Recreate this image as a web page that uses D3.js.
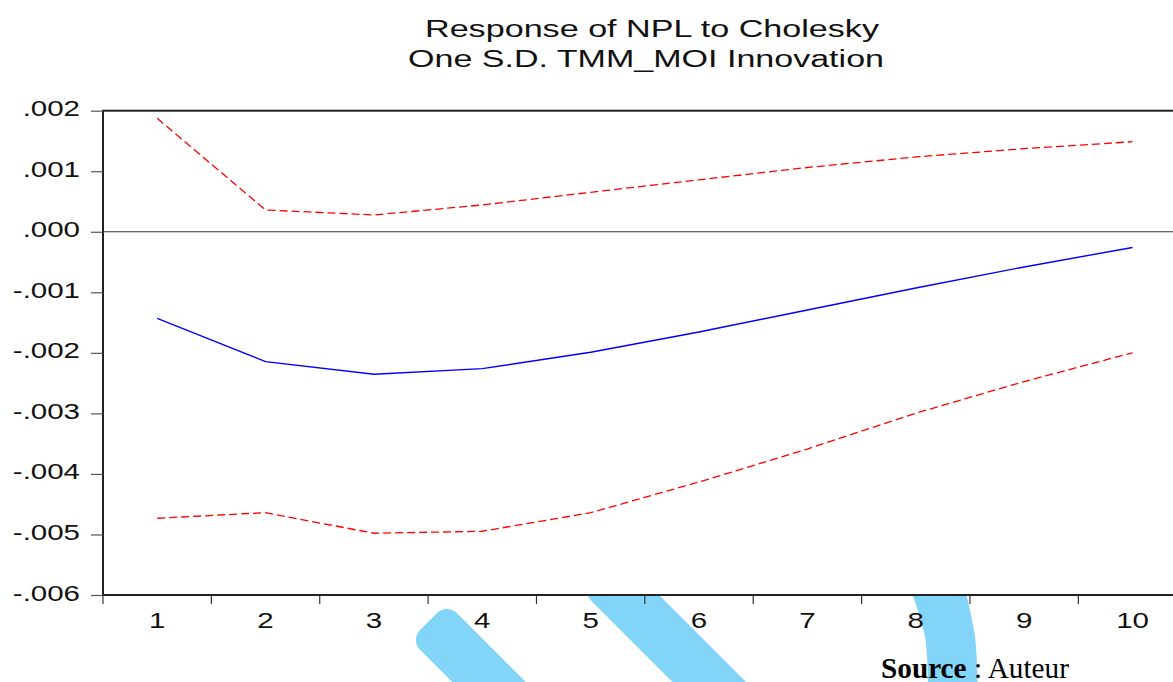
<!DOCTYPE html>
<html>
<head>
<meta charset="utf-8">
<script src="https://cdn.jsdelivr.net/npm/d3@7"></script>
<style>
  html, body { margin: 0; padding: 0; background: #fff; }
  svg { display: block; }
</style>
</head>
<body>
<svg id="chart" width="1173" height="682"></svg>
<script>
// Impulse response of NPL to a one S.D. TMM_MOI shock, with ±2 S.E. bands
const periods = [1, 2, 3, 4, 5, 6, 7, 8, 9, 10];
const response = [-0.001429, -0.002146, -0.002354, -0.002261, -0.001990, -0.001655, -0.001292, -0.000928, -0.000581, -0.000259];
const upperBand = [0.001875, 0.000360, 0.000278, 0.000443, 0.000652, 0.000859, 0.001062, 0.001236, 0.001373, 0.001488];
const lowerBand = [-0.004732, -0.004640, -0.004980, -0.004947, -0.004640, -0.004133, -0.003589, -0.002996, -0.002474, -0.001999];
const yTickValues = [0.002, 0.001, 0.000, -0.001, -0.002, -0.003, -0.004, -0.005, -0.006];
const yTickLabels = [".002", ".001", ".000", "-.001", "-.002", "-.003", "-.004", "-.005", "-.006"];
const titleLines = ["Response of NPL to Cholesky", "One S.D. TMM_MOI Innovation"];

const svg = d3.select("#chart");
const W = 1173, H = 682;
const plot = { left: 103, top: 110.7, right: 1186.7, bottom: 595 };
const FONT = "'Liberation Sans', Arial, Helvetica, sans-serif";
const HSTRETCH = 1.34;

svg.append("rect").attr("width", W).attr("height", H).attr("fill", "#fff");

const x = d3.scaleBand().domain(periods).range([plot.left, plot.right]).paddingInner(0).paddingOuter(0);
const y = d3.scaleLinear().domain([-0.006, 0.002]).range([plot.bottom, plot.top]);
const cx = p => x(p) + x.bandwidth() / 2;

// Light-blue highlighter strokes below the plot frame
const marker = svg.append("g").attr("clip-path", "url(#belowPlot)");
svg.append("defs").append("clipPath").attr("id", "belowPlot")
  .append("rect").attr("x", 0).attr("y", plot.bottom + 1).attr("width", W).attr("height", H);
const markerColor = "#82d5f8";
const straightStrokes = [
  { x: 428.5, y: 621.5, len: 200 },
  { x: 600, y: 572.7, len: 200 }
];
straightStrokes.forEach(s => {
  marker.append("rect")
    .attr("transform", `translate(${s.x},${s.y}) rotate(45)`)
    .attr("x", 0).attr("y", -26).attr("width", s.len).attr("height", 52)
    .attr("rx", 14).attr("fill", markerColor);
});
const curvedStrokeLeft = [[909, 585], [925, 637], [928, 700]];
const curvedStrokeRight = [[964, 585], [975, 637], [978, 700]];
const edge = d3.line().curve(d3.curveCatmullRom);
marker.append("path")
  .attr("d", edge(curvedStrokeLeft) + "L" + edge(curvedStrokeRight.slice().reverse()).slice(1) + "Z")
  .attr("fill", markerColor);

// Zero reference line
svg.append("line")
  .attr("x1", plot.left).attr("x2", plot.right)
  .attr("y1", y(0)).attr("y2", y(0))
  .attr("stroke", "#333").attr("stroke-width", 1.1);

// Series
const line = d3.line().x((d, i) => cx(periods[i])).y(d => y(d));
svg.append("path").datum(upperBand).attr("d", line)
  .attr("fill", "none").attr("stroke", "#ff0000").attr("stroke-width", 1.3)
  .attr("stroke-dasharray", "8,4");
svg.append("path").datum(lowerBand).attr("d", line)
  .attr("fill", "none").attr("stroke", "#ff0000").attr("stroke-width", 1.3)
  .attr("stroke-dasharray", "8,4");
svg.append("path").datum(response).attr("d", line)
  .attr("fill", "none").attr("stroke", "#0000ff").attr("stroke-width", 1.4);

// Frame
svg.append("rect")
  .attr("x", plot.left).attr("y", plot.top)
  .attr("width", plot.right - plot.left).attr("height", plot.bottom - plot.top)
  .attr("fill", "none").attr("stroke", "#222").attr("stroke-width", 2);

// Y axis ticks and labels
const yAxis = d3.axisLeft(y).tickValues(yTickValues).tickSize(12).tickFormat("");
const yg = svg.append("g").attr("transform", `translate(${plot.left},0)`).call(yAxis);
yg.select(".domain").remove();
yg.selectAll(".tick line").attr("stroke", "#555").attr("stroke-width", 1.2);
yTickValues.forEach((v, i) => {
  svg.append("text")
    .attr("transform", `translate(80,${y(v) + 5.5}) scale(${HSTRETCH},1)`)
    .attr("text-anchor", "end")
    .attr("font-family", FONT).attr("font-size", 22).attr("fill", "#111")
    .text(yTickLabels[i]);
});

// X axis ticks at period boundaries, labels at period centres
const boundaries = periods.map(p => x(p)).concat([plot.right]);
svg.append("g").selectAll("line").data(boundaries).join("line")
  .attr("x1", d => d).attr("x2", d => d)
  .attr("y1", plot.bottom + 1).attr("y2", plot.bottom + 9)
  .attr("stroke", "#333").attr("stroke-width", 1.2);
periods.forEach(p => {
  svg.append("text")
    .attr("transform", `translate(${cx(p)},627.5) scale(${HSTRETCH},1)`)
    .attr("text-anchor", "middle")
    .attr("font-family", FONT).attr("font-size", 22).attr("fill", "#111")
    .text(p);
});

// Title
const titleSpec = [
  { left: 425, base: 37, width: 454 },
  { left: 408, base: 67, width: 476 }
];
titleLines.forEach((t, i) => {
  svg.append("text")
    .attr("x", titleSpec[i].left).attr("y", titleSpec[i].base)
    .attr("textLength", titleSpec[i].width).attr("lengthAdjust", "spacingAndGlyphs")
    .attr("font-family", FONT).attr("font-size", 23.5).attr("fill", "#111")
    .text(t);
});

// Source note
const src = svg.append("text")
  .attr("x", 881).attr("y", 677.5)
  .attr("textLength", 188).attr("lengthAdjust", "spacingAndGlyphs")
  .attr("font-family", "'Liberation Serif', 'Times New Roman', serif")
  .attr("font-size", 29).attr("fill", "#000");
src.append("tspan").attr("font-weight", "bold").text("Source");
src.append("tspan").text(" : Auteur");
</script>
</body>
</html>
